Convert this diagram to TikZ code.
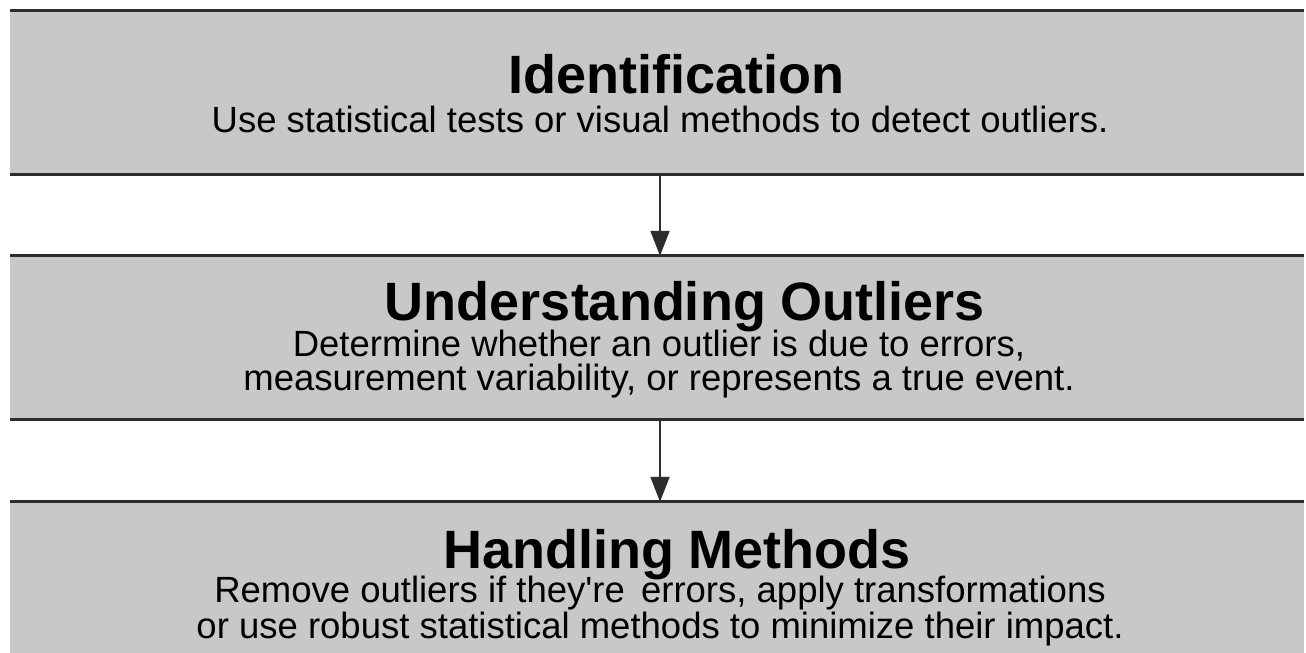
\documentclass[tikz,border=0pt]{standalone}
\usepackage{fontspec}
\setmainfont{Liberation Sans}
\usetikzlibrary{arrows.meta,positioning}
\definecolor{panelgray}{RGB}{200,200,200}
\definecolor{rulegray}{RGB}{45,45,45}

\begin{document}
\begin{tikzpicture}[
    x=1pt, y=-1pt,
    stage/.style={fill=panelgray, minimum width=1294pt, minimum height=163pt,
                  inner sep=0pt},
    rule/.style={line width=3pt, rulegray},
    ttl/.style={anchor=base, inner sep=0pt, font=\bfseries\fontsize{54}{60}\selectfont},
    txt/.style={anchor=base, inner sep=0pt, align=center,
                font=\fontsize{36.5}{34}\selectfont},
    flow/.style={-{Triangle[length=25pt, width=19pt]}, line width=2pt, rulegray}
  ]
  \useasboundingbox (0,0) rectangle (1306,653);
  \clip (0,0) rectangle (1306,653);
  % --- the three stages ---
  \node[stage] (ident)  at (657,92.5)  {};
  \node[stage] (under)  at (657,337.5) {};
  \node[stage] (handle) at (657,583.5) {};
  \foreach \b in {ident,under,handle} {
    \draw[rule] (\b.north west) -- (\b.north east);
    \draw[rule] (\b.south west) -- (\b.south east);
  }
  % --- texts (base of the last line) ---
  \node[ttl] (ident-title) at (676,93) {Identification};
  \node[txt] (ident-text)  at (660,132)
    {Use statistical tests or visual methods to detect outliers.};
  \node[ttl] (under-title) at (685,320) {Understanding Outliers};
  \node[txt] (under-text)  at (659,390)
    {Determine whether an outlier is due to errors,\\
     measurement variability, or represents a true event.};
  \node[ttl] (handle-title) at (677,568) {Handling Methods};
  \node[txt] (handle-text)  at (660,638)
    {Remove outliers if they\textquotesingle re\ \,errors, apply transformations\\
     or use robust statistical methods to minimize their impact.};
  % --- arrows ---
  \draw[flow] (ident.south -| ident-text) -- (under.north -| ident-text);
  \draw[flow] (under.south -| ident-text) -- (handle.north -| ident-text);
\end{tikzpicture}
\end{document}
